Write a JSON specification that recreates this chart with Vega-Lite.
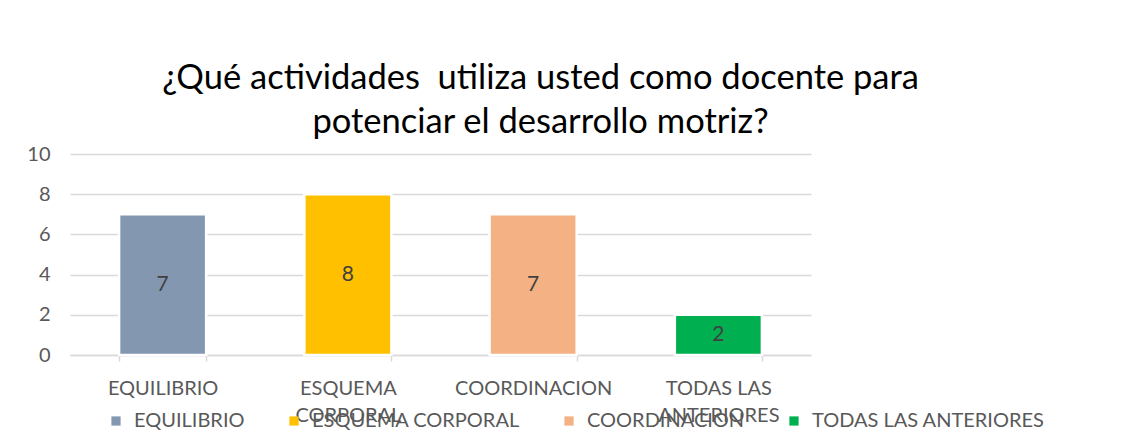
{
  "$schema": "https://vega.github.io/schema/vega-lite/v6.json",
  "autosize": {"type": "none"},
  "padding": {"left": 70, "top": 154, "right": 321, "bottom": 82},
  "width": 741,
  "height": 201,
  "background": "white",
  "title": {
    "text": ["¿Qué actividades \u00a0utiliza usted como docente para", "potenciar el desarrollo motriz?"],
    "font": "Lato",
    "fontSize": 34.5,
    "fontWeight": "normal",
    "color": "#000000",
    "lineHeight": 44,
    "anchor": "middle",
    "frame": "group",
    "dx": 100,
    "offset": 4
  },
  "data": {
    "values": [
      {"cat": "EQUILIBRIO", "value": 7},
      {"cat": "ESQUEMA CORPORAL", "value": 8},
      {"cat": "COORDINACION", "value": 7},
      {"cat": "TODAS LAS ANTERIORES", "value": 2}
    ]
  },
  "encoding": {
    "x": {
      "field": "cat",
      "type": "nominal",
      "sort": null,
      "axis": {
        "title": null,
        "labelAngle": 0,
        "labelExpr": "datum.value == 'ESQUEMA CORPORAL' ? ['ESQUEMA', 'CORPORAL'] : datum.value == 'TODAS LAS ANTERIORES' ? ['TODAS LAS', 'ANTERIORES'] : datum.value",
        "labelFont": "Lato",
        "labelFontSize": 20,
        "labelColor": "#595959",
        "labelLineHeight": 27,
        "labelPadding": 17,
        "labelBaseline": "top",
        "domainColor": "#d9d9d9",
        "domainWidth": 1.5,
        "tickColor": "#d9d9d9",
        "tickWidth": 1.5,
        "tickSize": 6,
        "tickBand": "extent",
        "grid": false
      }
    }
  },
  "layer": [
    {
      "mark": {"type": "bar", "stroke": "white", "strokeWidth": 2.5},
      "encoding": {
        "y": {
          "field": "value",
          "type": "quantitative",
          "scale": {"domain": [0, 10]},
          "axis": {
            "title": null,
            "values": [0, 2, 4, 6, 8, 10],
            "domain": false,
            "ticks": false,
            "labelFont": "Lato",
            "labelFontSize": 20,
            "labelColor": "#595959",
            "labelPadding": 20,
            "gridColor": "#d9d9d9",
            "gridWidth": 1.5
          }
        },
        "color": {
          "field": "cat",
          "type": "nominal",
          "sort": null,
          "scale": {
            "domain": ["EQUILIBRIO", "ESQUEMA CORPORAL", "COORDINACION", "TODAS LAS ANTERIORES"],
            "range": ["#8497B0", "#FFC000", "#F4B183", "#00B050"]
          },
          "legend": {
            "title": null,
            "orient": "none",
            "direction": "horizontal",
            "legendX": 36,
            "legendY": 257,
            "padding": 0,
            "symbolType": "square",
            "symbolSize": 85,
            "symbolStrokeWidth": 0,
            "labelFont": "Lato",
            "labelFontSize": 20,
            "labelColor": "#595959",
            "labelOffset": 8,
            "columnPadding": 39,
            "labelLimit": 400
          }
        }
      }
    },
    {
      "mark": {
        "type": "text",
        "font": "Lato",
        "fontSize": 21,
        "color": "#404040",
        "baseline": "middle",
        "align": "center",
        "y": {"expr": "scale('y', datum.value / 2)"}
      },
      "encoding": {
        "text": {"field": "value", "type": "quantitative"}
      }
    }
  ],
  "config": {
    "view": {"stroke": null},
    "scale": {"bandPaddingInner": 0.53, "bandPaddingOuter": 0.265}
  }
}
